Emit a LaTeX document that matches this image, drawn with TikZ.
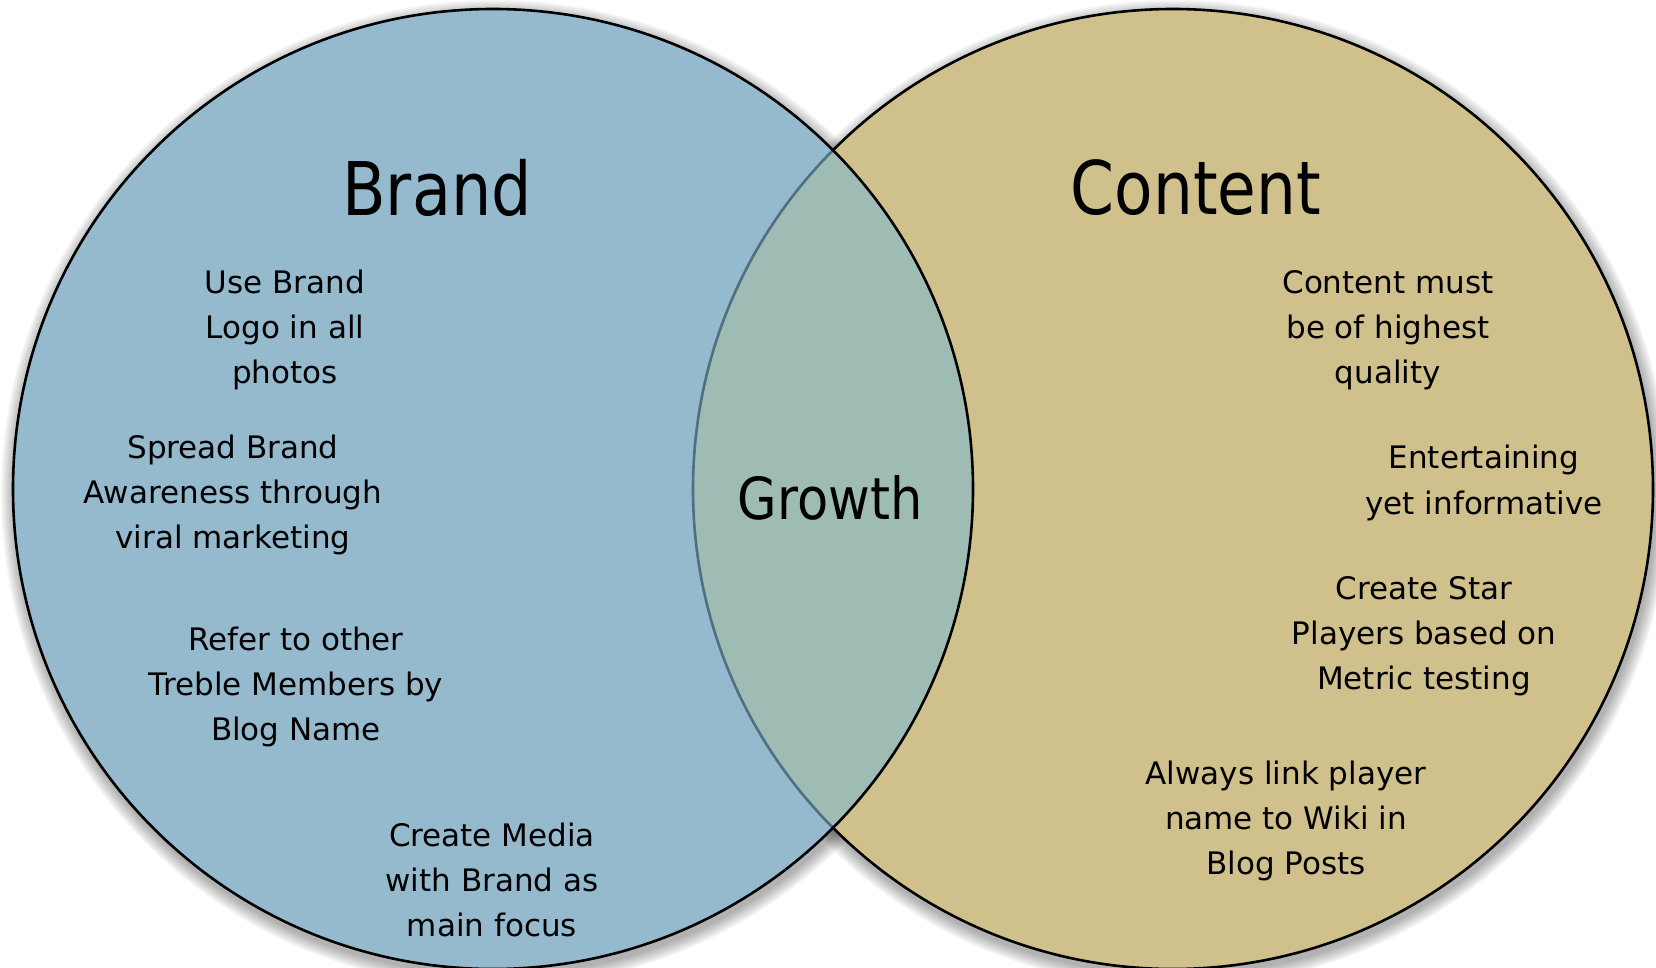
\documentclass[tikz,border=0pt]{standalone}
\usepackage{fontspec}
\setmainfont{DejaVu Sans}
\usepackage{xcolor}
\definecolor{brandblue}{HTML}{95B9CD}
\definecolor{contenttan}{HTML}{CFC08C}
\definecolor{growthmix}{HTML}{9EBCB4}
\definecolor{lensedge}{HTML}{4F6F82}
\tikzset{
  ring/.style={line width=1.3pt},
  note/.style={align=center,inner sep=0pt,font=\fontsize{15.5}{22.6}\selectfont},
  heading/.style={inner sep=0pt,font=\fontsize{37}{40}\selectfont},
}

\begin{document}
\begin{tikzpicture}[x=0.5pt,y=-0.5pt]
        \useasboundingbox (0,0) rectangle (1656,968);
        \coordinate (bc) at (493,489);
        \coordinate (cc) at (1173,489);
      % soft shadow under both sets
        \foreach \k in {1,...,10}
          \fill[black,opacity=0.035] ([shift={(2,5)}]bc) circle[radius=240pt+\k*0.7pt];
        \foreach \k in {1,...,10}
          \fill[black,opacity=0.035] ([shift={(2,5)}]cc) circle[radius=240pt+\k*0.7pt];
        \draw[ring,fill=contenttan] (cc) circle[radius=240pt];
        \fill[brandblue] (bc) circle[radius=240pt];
      % the overlap
        \begin{scope}
          \clip (bc) circle[radius=240pt];
          \fill[growthmix] (cc) circle[radius=240pt];
          \draw[ring,lensedge] (cc) circle[radius=240pt];
        \end{scope}
        \draw[ring] (bc) circle[radius=240pt];
        \node[heading] (brand) at (437,188) {\scalebox{0.86}[1]{Brand}};
        \node[heading] (content) at (1196,188) {\scalebox{0.85}[1]{Content}};
        \node[inner sep=0pt,font=\fontsize{29}{30}\selectfont] (growth) at (830,498) {\scalebox{0.88}[1]{Growth}};
        \node[note] (logo) at (285,330) {Use Brand\\Logo in all\\photos};
        \node[note] (spread) at (233,495) {Spread Brand\\Awareness through\\viral marketing};
        \node[note] (refer) at (296,687) {Refer to other\\Treble Members by\\Blog Name};
        \node[note] (media) at (492,880) {Create Media\\with Brand as\\main focus};
        \node[note] (quality) at (1388,330) {Content must\\be of highest\\quality};
        \node[note] (fun) at (1484,483) {Entertaining\\yet informative};
        \node[note] (star) at (1424,636) {Create Star\\Players based on\\Metric testing};
        \node[note] (wiki) at (1286,821) {Always link player\\name to Wiki in\\Blog Posts};
      \end{tikzpicture}
\end{document}
